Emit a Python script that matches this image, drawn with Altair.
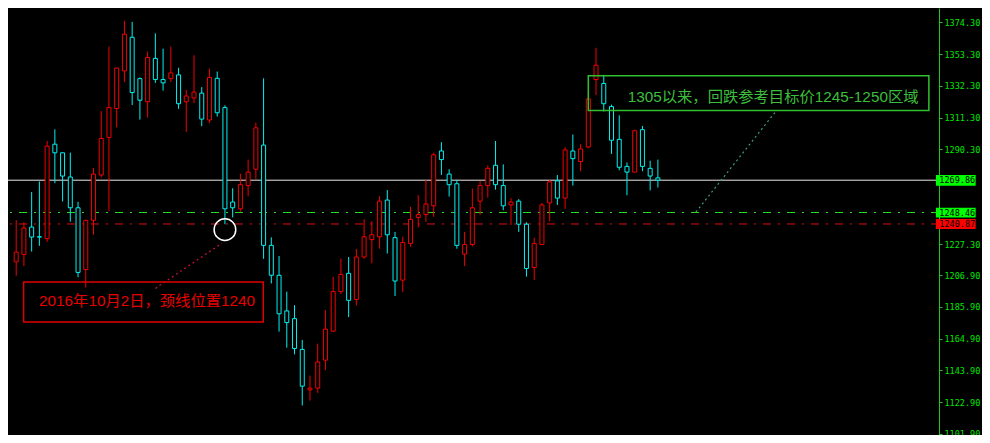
import altair as alt
import pandas as pd

# ---------------- data ----------------
idx = list(range(84))
opens = [1215.8, 1220.7, 1238.8, 1232.4, 1231.2, 1293.7, 1288.0, 1272.0, 1251.6, 1210.7,
         1243.3, 1273.3, 1298.2, 1317.3, 1342.2, 1364.5, 1337.1, 1321.8, 1350.5, 1336.5,
         1337.1, 1339.6, 1321.8, 1324.3, 1327.5, 1309.7, 1337.3, 1317.9, 1255.4, 1250.9,
         1266.3, 1277.1, 1293.1, 1226.7, 1206.9, 1183.3, 1178.2, 1157.8, 1131.0, 1132.2,
         1150.7, 1169.9, 1196.1, 1208.2, 1190.9, 1219.0, 1230.5, 1232.4, 1256.7, 1231.8,
         1203.7, 1228.0, 1245.2, 1247.1, 1252.9, 1289.2, 1273.9, 1267.5, 1220.9, 1227.3,
         1256.0, 1266.3, 1279.7, 1266.3, 1253.5, 1256.0, 1240.7, 1212.0, 1227.3, 1254.8,
         1269.4, 1258.0, 1289.2, 1282.2, 1291.8, 1336.5, 1333.9, 1318.6, 1296.9, 1279.0,
         1275.2, 1303.3, 1277.7, 1271.4]
closes = [1222.2, 1238.2, 1232.2, 1232.2, 1292.4, 1288.0, 1272.6, 1251.6, 1208.8, 1243.3,
          1273.9, 1297.5, 1317.9, 1344.1, 1366.5, 1327.9, 1322.8, 1351.1, 1336.5, 1334.3,
          1340.9, 1320.5, 1325.6, 1328.2, 1310.3, 1337.9, 1314.5, 1250.9, 1251.6, 1266.9,
          1275.2, 1304.5, 1226.7, 1206.9, 1181.4, 1175.6, 1158.4, 1133.5, 1132.2, 1149.5,
          1171.2, 1196.1, 1207.5, 1190.3, 1219.0, 1232.4, 1233.7, 1256.0, 1233.7, 1203.1,
          1228.6, 1243.9, 1247.1, 1254.1, 1286.7, 1283.5, 1266.9, 1226.7, 1227.3, 1251.6,
          1266.3, 1277.7, 1266.9, 1252.9, 1255.4, 1240.7, 1211.4, 1228.0, 1253.5, 1268.8,
          1258.0, 1289.9, 1284.1, 1290.5, 1323.7, 1346.0, 1320.5, 1296.3, 1278.4, 1275.2,
          1302.6, 1279.0, 1272.6, 1269.86]
highs = [1243.5, 1242.0, 1262.0, 1269.0, 1295.8, 1303.5, 1288.0, 1288.1, 1255.6, 1243.3,
         1277.9, 1315.6, 1358.3, 1344.1, 1375.4, 1374.7, 1337.9, 1355.0, 1367.1, 1356.9,
         1358.3, 1344.3, 1329.6, 1352.6, 1331.5, 1343.7, 1341.8, 1319.4, 1264.5, 1274.1,
         1283.5, 1307.9, 1337.3, 1232.0, 1219.7, 1196.1, 1187.1, 1164.1, 1140.5, 1161.6,
         1183.9, 1205.8, 1217.9, 1219.0, 1224.3, 1244.1, 1242.8, 1259.2, 1263.3, 1235.6,
         1232.4, 1252.2, 1259.9, 1270.1, 1288.1, 1295.0, 1277.1, 1270.1, 1235.6, 1264.3,
         1269.4, 1279.7, 1295.8, 1280.3, 1258.0, 1257.3, 1242.0, 1231.8, 1254.8, 1270.1,
         1273.3, 1291.8, 1300.1, 1293.7, 1328.2, 1357.5, 1339.6, 1319.9, 1312.8, 1281.6,
         1303.3, 1305.8, 1282.8, 1283.5]
lows = [1206.6, 1213.0, 1222.6, 1226.4, 1229.0, 1267.9, 1255.8, 1242.4, 1205.6, 1198.8,
        1233.7, 1271.7, 1249.4, 1304.9, 1334.9, 1319.6, 1310.0, 1311.3, 1334.3, 1329.2,
        1334.9, 1317.1, 1301.7, 1320.9, 1305.6, 1307.7, 1312.0, 1240.7, 1245.2, 1249.0,
        1259.2, 1270.7, 1217.8, 1201.5, 1169.6, 1159.0, 1154.6, 1120.7, 1123.9, 1129.0,
        1144.1, 1169.5, 1194.5, 1179.2, 1186.9, 1217.9, 1214.9, 1224.5, 1221.3, 1193.2,
        1195.8, 1225.8, 1238.6, 1242.2, 1245.6, 1273.3, 1259.0, 1224.5, 1213.0, 1226.0,
        1246.9, 1258.3, 1263.6, 1250.0, 1240.1, 1235.6, 1206.0, 1203.7, 1227.3, 1242.6,
        1253.5, 1250.9, 1266.3, 1275.8, 1291.1, 1326.2, 1315.4, 1287.3, 1276.5, 1259.9,
        1275.2, 1275.8, 1263.1, 1265.0]

tick_values = [1374.30, 1353.30, 1332.30, 1311.30, 1290.30, 1227.30,
               1206.90, 1185.90, 1164.90, 1143.90, 1122.90, 1101.90]

level_prices = [1269.86, 1248.46, 1240.87]
tag_labels = ["1269.86", "1248.46", "1240.87"]
tag_top = [1273.27, 1251.57, 1244.10]
tag_bottom = [1266.25, 1245.20, 1237.50]
tag_colors = ["#00ff00", "#00ff00", "#ff0000"]

red_box_x = [0.96, 31.96]
red_box_y = [1176.0, 1202.4]
red_text = "2016年10月2日，颈线位置1240"
red_text_xy = [2.96, 1189.9]
red_pointer_x = [18.0, 26.6]
red_pointer_y = [1198.2, 1228.1]
circle_xy = [27.0, 1237.1]

green_box_x = [74.0, 118.05]
green_box_y = [1316.0, 1339.0]
green_text = "1305以来，回跌参考目标价1245-1250区域"
green_text_xy = [79.1, 1324.7]
green_pointer_x = [98.25, 87.92]
green_pointer_y = [1315.4, 1248.8]

# ---------------- styling ----------------
RED = "#f20000"
CYAN = "#00f0f0"
AXIS_GREEN = "#22c422"
LABEL_GREEN = "#00e600"
TXT_GREEN = "#3cbe3c"
CJK_FONT = "Liberation Sans, Noto Sans CJK SC"

W, H = 931, 427
xs = alt.Scale(domain=[-0.4125, 118.7125], nice=False, zero=False)
ys = alt.Scale(domain=[1101.15, 1383.87], nice=False, zero=False)

yaxis = alt.Axis(orient="right", values=tick_values, format=".2f", grid=False, title=None,
                 labelColor=LABEL_GREEN, labelFont="DejaVu Sans Mono", labelFontSize=8.5,
                 labelPadding=2, labelOverlap=False, labelFlush=False, labelBound=False,
                 tickColor=AXIS_GREEN, tickSize=3, domainColor=AXIS_GREEN, domainWidth=1)


def X(f):
    return alt.X(f, scale=xs, axis=None)


def Y(f):
    return alt.Y(f, scale=ys, axis=yaxis)


candles = pd.DataFrame({"i": idx, "open": opens, "high": highs, "low": lows, "close": closes})
candles["dir"] = ["up" if c >= o else "down" for o, c in zip(opens, closes)]
dir_scale = alt.Scale(domain=["up", "down"], range=[RED, CYAN])

# horizontal levels
white_line = alt.Chart(pd.DataFrame({"p": [level_prices[0]]})).mark_rule(
    color="#e8e8e8", strokeWidth=1).encode(y=Y("p:Q"))
green_line = alt.Chart(pd.DataFrame({"p": [level_prices[1]]})).mark_rule(
    color="#22dd22", strokeWidth=1, strokeDash=[8, 7, 2, 7]).encode(y=Y("p:Q"))
red_line = alt.Chart(pd.DataFrame({"p": [level_prices[2]]})).mark_rule(
    color="#e01010", strokeWidth=1, strokeDash=[8, 7, 2, 7]).encode(y=Y("p:Q"))

# pointers (dotted)
red_ptr = alt.Chart(pd.DataFrame({"x": red_pointer_x, "y": red_pointer_y})).mark_line(
    color="#d0103c", strokeWidth=1.2, strokeDash=[2, 3]).encode(x=X("x:Q"), y=Y("y:Q"))
green_ptr = alt.Chart(pd.DataFrame({"x": green_pointer_x, "y": green_pointer_y})).mark_line(
    color="#3ca070", strokeWidth=1.2, strokeDash=[2, 3]).encode(x=X("x:Q"), y=Y("y:Q"))

# candles
base = alt.Chart(candles)
wicks = base.mark_rule(strokeWidth=1).encode(
    x=X("i:Q"), y=Y("low:Q"), y2="high:Q",
    color=alt.Color("dir:N", scale=dir_scale, legend=None))
bodies = base.mark_bar(size=4, fill="black", strokeWidth=1).encode(
    x=X("i:Q"), y=Y("open:Q"), y2="close:Q",
    stroke=alt.Stroke("dir:N", scale=dir_scale, legend=None))

circle = alt.Chart(pd.DataFrame({"x": [circle_xy[0]], "y": [circle_xy[1]]})).mark_point(
    shape="circle", filled=False, size=470, color="white", strokeWidth=1.5, opacity=1).encode(
    x=X("x:Q"), y=Y("y:Q"))

# annotation boxes
red_box = alt.Chart(pd.DataFrame({"x": [red_box_x[0]], "x2": [red_box_x[1]],
                                  "y": [red_box_y[0]], "y2": [red_box_y[1]]})).mark_rect(
    fillOpacity=0, stroke="#e00000", strokeWidth=1.5).encode(
    x=X("x:Q"), x2="x2:Q", y=Y("y:Q"), y2="y2:Q")
green_box = alt.Chart(pd.DataFrame({"x": [green_box_x[0]], "x2": [green_box_x[1]],
                                    "y": [green_box_y[0]], "y2": [green_box_y[1]]})).mark_rect(
    fillOpacity=0, stroke="#30c030", strokeWidth=1.5).encode(
    x=X("x:Q"), x2="x2:Q", y=Y("y:Q"), y2="y2:Q")

red_label = alt.Chart(pd.DataFrame({"x": [red_text_xy[0]], "y": [red_text_xy[1]],
                                    "t": [red_text]})).mark_text(
    align="left", baseline="middle", fontSize=15.3, font=CJK_FONT, color="#e80000").encode(
    x=X("x:Q"), y=Y("y:Q"), text="t:N")
green_label = alt.Chart(pd.DataFrame({"x": [green_text_xy[0]], "y": [green_text_xy[1]],
                                      "t": [green_text]})).mark_text(
    align="left", baseline="middle", fontSize=15.3, font=CJK_FONT, color=TXT_GREEN).encode(
    x=X("x:Q"), y=Y("y:Q"), text="t:N")

# price tags on the axis
tags = pd.DataFrame({"x": [118.96] * 3, "x2": [124.1] * 3, "top": tag_top, "bottom": tag_bottom,
                     "p": level_prices, "t": tag_labels, "c": tag_colors, "tx": [119.4] * 3})
tag_bg = alt.Chart(tags).mark_rect().encode(
    x=X("x:Q"), x2="x2:Q", y=Y("bottom:Q"), y2="top:Q",
    color=alt.Color("c:N", scale=None, legend=None))
tag_txt = alt.Chart(tags).mark_text(
    align="left", baseline="middle", fontSize=8.5, font="DejaVu Sans Mono", color="black").encode(
    x=X("tx:Q"), y=Y("p:Q"), text="t:N")

chart = alt.layer(
    white_line, green_line, red_line, red_ptr, green_ptr,
    wicks, bodies, circle, red_box, green_box, red_label, green_label,
    tag_bg, tag_txt
).properties(
    width=W, height=H,
    autosize=alt.AutoSizeParams(type="none"),
    padding={"left": 0, "top": 0, "right": 43, "bottom": 0},
    background="black"
).configure_view(strokeWidth=0)

chart.save("out.html", embed_options={"renderer": "svg", "actions": False})
